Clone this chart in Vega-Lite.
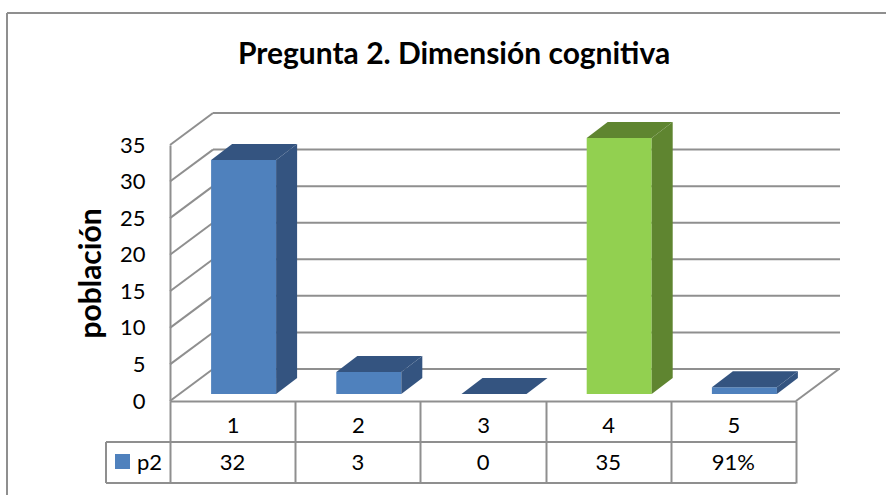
{
"$schema":"https://vega.github.io/schema/vega-lite/v6.json",
"width":626,"height":256,
"autosize":"none",
"padding":{"left":170,"top":145,"right":90,"bottom":94},
"background":"white",
"view":{"stroke":null},
"config":{"axis":{"labelOverlap":false},"axisY":{"tickCount":8,"values":[0,5,10,15,20,25,30,35],"labelOverlap":false,"labelFlush":false,"labelBound":false,"grid":false,"ticks":false,"domain":true,"domainColor":"#8f8f8f","domainWidth":2,"labelFont":"Lato","labelFontSize":22,"labelColor":"black","labelPadding":25,"titleFont":"Lato","titleFontSize":30,"titleFontWeight":"bold","titleColor":"black","titlePadding":13}},
"datasets":{
"bars":[{"cat":"1","p2":32,"label":"32"},{"cat":"2","p2":3,"label":"3"},{"cat":"3","p2":0,"label":"0"},{"cat":"4","p2":35,"label":"35"},{"cat":"5","p2":0.91,"label":"91%"}],
"ticks":[{"t":0},{"t":5},{"t":10},{"t":15},{"t":20},{"t":25},{"t":30},{"t":35}]
},
"layer":[
{"data":{"name":"ticks"},"mark":{"type":"rule","stroke":"#8f8f8f","strokeWidth":2,"yOffset":-32},
 "encoding":{"y":{"field":"t","type":"quantitative","scale":{"domain":[0,35]},
   "axis":{"values":[0,5,10,15,20,25,30,35],"tickCount":8,"title":"población"}},
  "x":{"value":43},"x2":{"value":670}}},
{"data":{"name":"ticks"},"mark":{"type":"point","filled":false,"stroke":"#8f8f8f","strokeWidth":2,"opacity":1,"size":360000,"shape":"M-.0717,.0533L.0717,-.0533","yOffset":-16},
 "encoding":{"y":{"field":"t","type":"quantitative","axis":{"values":[0,5,10,15,20,25,30,35],"tickCount":8,"title":"población"}},"x":{"value":21.5}}},
{"data":{"values":[{"t":0}]},"mark":{"type":"point","filled":false,"stroke":"#8f8f8f","strokeWidth":2,"opacity":1,"size":360000,"shape":"M-.0717,.0533L.0717,-.0533","yOffset":-16},
 "encoding":{"y":{"field":"t","type":"quantitative","axis":{"values":[0,5,10,15,20,25,30,35],"tickCount":8,"title":"población"}},"x":{"value":647.5}}},
{"data":{"name":"bars"},"mark":{"type":"bar","size":65,"xOffset":11,"yOffset":-7,"clip":false},
 "encoding":{"x":{"field":"cat","type":"nominal","sort":null,"scale":{"paddingInner":0,"paddingOuter":0},
   "axis":{"title":null,"labelAngle":0,"domain":true,"domainColor":"#8f8f8f","domainWidth":2,"ticks":true,"tickBand":"extent","tickSize":82,"tickColor":"#8f8f8f","tickWidth":2,"labelFont":"Lato","labelFontSize":22,"labelColor":"black","labelPadding":-68}},
  "y":{"field":"p2","type":"quantitative","axis":{"values":[0,5,10,15,20,25,30,35],"tickCount":8,"title":"población"}},
  "color":{"field":"cat","type":"nominal","legend":null,"scale":{"domain":["1","2","3","4","5"],"range":["#4f81bd","#4f81bd","#4f81bd","#92d050","#4f81bd"]}}}},
{"data":{"name":"bars"},"mark":{"type":"point","filled":true,"opacity":1,"strokeWidth":0,"size":360000,"xOffset":43.5,"yOffset":-7},
 "encoding":{"x":{"field":"cat","type":"nominal","sort":null},"y":{"datum":0,"type":"quantitative","axis":{"values":[0,5,10,15,20,25,30,35],"tickCount":8,"title":"población"}},
  "shape":{"field":"cat","type":"nominal","legend":null,"scale":{"domain":["1","2","3","4","5"],"range":["M0,0L.07,-.0533L.07,-.8333L0,-.78Z","M0,0L.07,-.0533L.07,-.1264L0,-.0731Z","M0,0L.07,-.0533L0,0Z","M0,0L.07,-.0533L.07,-.9066L0,-.8533Z","M0,0L.07,-.0533L.07,-.0755L0,-.0222Z"]}},
  "fill":{"field":"cat","type":"nominal","legend":null,"scale":{"domain":["1","2","3","4","5"],"range":["#345480","#345480","#345480","#5f8530","#345480"]}}}},
{"data":{"name":"bars"},"mark":{"type":"point","filled":true,"opacity":1,"strokeWidth":0,"size":360000,"shape":"M0,0L.2167,0L.2867,-.0533L.07,-.0533Z","xOffset":-21.5,"yOffset":-7},
 "encoding":{"x":{"field":"cat","type":"nominal","sort":null},"y":{"field":"p2","type":"quantitative","axis":{"values":[0,5,10,15,20,25,30,35],"tickCount":8,"title":"población"}},
  "fill":{"field":"cat","type":"nominal","legend":null,"scale":{"domain":["1","2","3","4","5"],"range":["#3d6392","#3d6392","#3d6392","#6f9b3c","#3d6392"]}}}},
{"data":{"name":"bars"},"mark":{"type":"text","font":"Lato","fontSize":22,"color":"black","align":"center","baseline":"middle"},
 "encoding":{"x":{"field":"cat","type":"nominal","sort":null},"y":{"value":318},"text":{"field":"label"}}},
{"data":{"values":[{"a":1}]},"mark":{"type":"rule","stroke":"#8f8f8f","strokeWidth":2},"encoding":{"x":{"value":-64},"x2":{"value":626},"y":{"value":297}}},
{"data":{"values":[{"a":1}]},"mark":{"type":"rule","stroke":"#8f8f8f","strokeWidth":2},"encoding":{"x":{"value":-64},"x2":{"value":626},"y":{"value":338}}},
{"data":{"values":[{"a":1}]},"mark":{"type":"rule","stroke":"#8f8f8f","strokeWidth":2},"encoding":{"x":{"value":-64},"y":{"value":297},"y2":{"value":338}}},
{"data":{"values":[{"a":1}]},"mark":{"type":"rule","stroke":"#8f8f8f","strokeWidth":2},"encoding":{"x":{"value":-163},"x2":{"value":716},"y":{"value":-132}}},
{"data":{"values":[{"a":1}]},"mark":{"type":"rule","stroke":"#8f8f8f","strokeWidth":2},"encoding":{"x":{"value":-163},"y":{"value":-132},"y2":{"value":350}}},
{"data":{"values":[{"a":"p2"}]},"mark":{"type":"square","filled":true,"color":"#4f81bd","opacity":1,"size":225},"encoding":{"x":{"value":-47.5},"y":{"value":316.5}}},
{"data":{"values":[{"a":"p2"}]},"mark":{"type":"text","font":"Lato","fontSize":22,"color":"black","align":"left","baseline":"middle"},"encoding":{"x":{"value":-33},"y":{"value":318},"text":{"field":"a"}}},
{"data":{"values":[{"a":"Pregunta 2. Dimensión cognitiva"}]},"mark":{"type":"text","font":"Lato","fontSize":30,"fontWeight":"bold","color":"black","align":"center","baseline":"middle"},"encoding":{"x":{"value":284},"y":{"value":-90},"text":{"field":"a"}}}
],
"resolve":{"scale":{"color":"independent","shape":"independent"}}
}
